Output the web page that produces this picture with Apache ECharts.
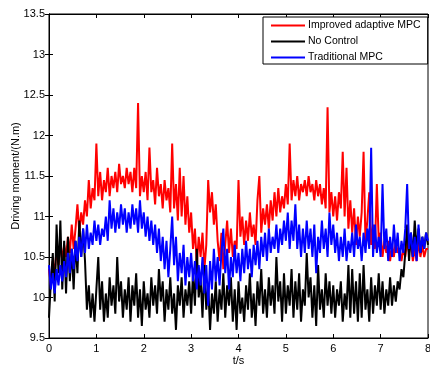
<!DOCTYPE html>
<html>
<head>
<meta charset="utf-8">
<script src="https://cdn.jsdelivr.net/npm/echarts@6/dist/echarts.min.js"></script>
<style>
html,body{margin:0;padding:0;background:#fff;}
#chart{width:430px;height:365px;}
</style>
</head>
<body>
<div id="chart"></div>
<script>
// Sample times: t = 0 .. 8 s, step 0.04 s
const tStart = 0;
const tStep = 0.04;

const seriesNames = ['Improved adaptive MPC', 'No Control', 'Traditional MPC'];

const improvedMPC = [
  10.35, 10.15, 10.45, 10.3, 10.6,
  10.4, 10.7, 10.45, 10.65, 10.5,
  10.75, 10.55, 10.9, 10.6, 10.85,
  11.15, 10.8, 11.05, 10.9, 11.2,
  11.0, 11.45, 11.1, 11.35, 11.2,
  11.9, 11.25, 11.55, 11.2, 11.45,
  11.3, 11.6, 11.25, 11.5, 11.35,
  11.55, 11.3, 11.65, 11.4, 11.5,
  11.35, 11.6, 11.4, 11.55, 11.3,
  11.6, 11.35, 12.4, 11.25, 11.5,
  11.3, 11.55, 11.2, 11.85, 11.3,
  11.45, 11.15, 11.6, 11.25, 11.4,
  11.1, 11.45, 11.2, 11.35, 11.05,
  11.9, 11.1, 11.4, 10.95, 11.6,
  11.0, 11.5, 10.9, 11.25, 10.8,
  11.05, 10.6, 10.85, 10.4, 10.75,
  10.5, 10.8, 10.35, 10.65, 11.45,
  11.05, 11.3, 10.9, 11.15, 10.7,
  10.45, 10.8, 10.35, 10.65, 10.95,
  10.55, 10.85, 10.5, 10.7, 10.6,
  11.45, 10.75, 11.0, 10.65, 10.95,
  10.7, 11.05, 10.75, 10.9, 10.65,
  11.2, 11.5, 10.8, 11.1, 10.9,
  11.15, 10.85, 11.2, 10.95, 11.3,
  11.0, 11.35, 11.05, 11.25, 11.1,
  11.4, 11.15, 11.9, 11.2, 11.45,
  11.25, 11.5, 11.2, 11.4, 11.3,
  11.45, 11.25, 11.5, 11.3, 11.4,
  11.2, 11.45, 11.25, 11.4, 11.15,
  11.35, 11.1, 12.35, 11.05, 11.3,
  11.0, 11.25, 10.95, 11.3, 11.1,
  11.8, 11.0, 11.6, 10.85, 11.2,
  10.8, 11.1, 10.65, 11.0, 10.75,
  11.05, 11.8, 10.7, 10.95, 11.3,
  10.65, 10.9, 10.6, 11.4, 10.7,
  10.8, 10.5, 10.7, 10.55, 10.7,
  10.45, 10.65, 10.5, 10.7, 10.55,
  10.6, 10.45, 10.6, 10.5, 10.7,
  10.55, 10.7, 10.45, 10.6, 10.45,
  10.7, 10.5, 10.65, 10.5, 10.6,
  10.6
];

const noControl = [
  9.75, 10.2, 10.55, 9.95, 10.9,
  10.3, 10.95, 10.1, 10.7, 10.05,
  10.75, 10.2, 10.6, 10.1, 10.7,
  10.3, 10.95, 10.5, 10.85, 10.45,
  9.85, 10.15, 9.75, 10.05, 9.7,
  10.1, 10.5, 9.85, 10.2, 9.7,
  10.05, 9.75, 10.25, 9.9, 10.15,
  9.8, 10.5, 9.95, 10.2, 9.75,
  10.1, 9.85, 10.25, 9.7, 10.15,
  9.9, 10.3, 9.75, 10.1, 9.65,
  10.2, 9.85, 10.05, 9.75, 10.25,
  9.9, 10.15, 9.8, 10.35, 9.95,
  10.2, 9.7, 10.1, 9.85, 10.25,
  9.8, 10.05, 9.6, 10.15, 9.9,
  10.25, 9.75, 10.1, 9.9, 10.2,
  9.8, 10.3, 9.9, 10.6, 10.0,
  10.25, 9.75, 10.4, 9.85, 10.15,
  9.6, 10.05, 9.8, 10.2, 9.7,
  10.1, 9.85, 10.3, 9.75, 10.15,
  9.9, 10.25, 9.7, 10.1, 9.6,
  10.2, 9.8, 10.0, 9.7, 10.15,
  9.85, 10.3, 9.75, 10.05, 9.65,
  10.2, 9.9, 10.35, 9.8, 10.1,
  9.75, 10.25, 9.9, 10.15, 9.8,
  10.5, 9.95, 10.2, 9.7, 10.3,
  9.8, 10.15, 9.9, 10.35, 9.75,
  10.2, 9.85, 10.3, 9.7, 10.1,
  9.9, 10.55, 10.0, 10.25, 9.75,
  10.15, 9.65, 10.4, 9.85, 10.1,
  9.75, 10.3, 9.9, 10.2, 9.8,
  10.15, 9.75, 10.1, 9.9, 10.2,
  9.7, 10.05, 9.85, 10.4, 9.75,
  10.35, 9.8, 10.2, 9.7, 10.3,
  9.75, 10.4, 9.85, 10.1, 9.7,
  10.25, 9.8, 10.15, 9.9, 10.3,
  9.85, 10.2, 9.8, 10.1, 9.9,
  10.25, 9.9, 10.15, 9.95, 10.2,
  10.1, 10.35, 10.25, 10.55, 10.9,
  10.45, 10.8, 10.5, 10.95, 10.6,
  10.85, 10.55, 10.75, 10.6, 10.8,
  10.65
];

const traditionalMPC = [
  10.4, 10.1, 10.3, 10.05, 10.35,
  10.15, 10.4, 10.2, 10.45, 10.25,
  10.55, 10.3, 10.6, 10.35, 10.7,
  10.45, 10.75, 10.5, 10.85, 10.55,
  10.9, 10.6, 10.8, 10.65, 10.95,
  10.7, 10.9, 10.65, 10.85, 10.75,
  11.0, 10.7, 11.2, 10.85, 11.1,
  10.8, 11.05, 10.85, 11.15, 10.9,
  11.1, 10.8, 11.05, 10.85, 11.15,
  10.9, 11.1, 10.8, 11.2, 10.85,
  11.05, 10.75, 11.0, 10.7, 10.95,
  10.65, 10.9, 10.55, 10.85, 10.45,
  10.75, 10.35, 10.7, 10.25, 10.6,
  11.0, 10.4, 10.75, 10.2, 10.55,
  10.3, 10.65, 10.15, 10.5, 10.25,
  10.55, 10.2, 10.45, 10.1, 10.4,
  10.15, 10.5, 10.05, 10.4, 9.9,
  10.45, 10.1, 10.6, 10.2, 10.5,
  10.15, 10.55, 10.85, 10.3, 10.6,
  10.1, 10.5, 10.25, 10.65, 10.3,
  10.55, 10.2, 10.6, 10.3, 10.7,
  10.35, 10.6, 10.25, 10.65, 10.4,
  10.7, 10.35, 10.75, 10.5, 10.8,
  10.45, 10.85, 10.55, 10.75, 10.6,
  10.9, 10.55, 10.85, 10.65, 10.95,
  10.7, 11.05, 10.6, 10.95, 10.7,
  11.15, 10.6, 10.9, 10.5, 10.85,
  10.55, 10.95, 10.6, 10.85, 10.5,
  10.9, 10.3, 10.75, 10.55, 10.95,
  10.6, 10.85, 10.5, 11.05, 10.65,
  10.9, 10.55, 10.8, 10.45, 10.75,
  10.5, 10.85, 10.45, 10.7, 10.55,
  10.8, 10.5, 10.9, 10.6, 10.75,
  10.45, 10.8, 10.55, 10.85, 10.6,
  11.85, 10.5, 10.9, 10.55, 10.75,
  10.5, 11.4, 10.6, 10.85, 10.45,
  10.75, 10.5, 10.9, 10.55, 10.8,
  10.45, 10.7, 10.55, 10.85, 11.4,
  10.6, 10.8, 10.5, 10.75, 10.45,
  10.9, 10.55, 10.75, 10.6, 10.8,
  10.7
];

const xTicks = [0, 1, 2, 3, 4, 5, 6, 7, 8];
const yTicks = [9.5, 10, 10.5, 11, 11.5, 12, 12.5, 13, 13.5];

function pairs(vals) {
  return vals.map((v, i) => [+(tStart + i * tStep).toFixed(2), v]);
}

const FONT = '"Liberation Sans", Arial, sans-serif';
const chart = echarts.init(document.getElementById('chart'), null, {renderer: 'canvas'});

const axisLine = {show: true, lineStyle: {color: '#000', width: 1}};
const tick = {show: true, inside: true, length: 4, lineStyle: {color: '#000', width: 1}};

chart.setOption({
  backgroundColor: '#fff',
  animation: false,
  textStyle: {fontFamily: FONT},
  grid: {left: 49, right: 2, top: 14, bottom: 27, containLabel: false, outerBoundsMode: 'none',
         show: true, borderColor: '#000', borderWidth: 1, backgroundColor: 'transparent'},
  legend: {
    orient: 'vertical',
    left: 263,
    top: 17,
    data: seriesNames,
    icon: 'rect',
    itemWidth: 34,
    itemHeight: 2,
    itemGap: 5,
    padding: [3, 7, 1, 8],
    borderColor: '#000',
    borderWidth: 1,
    backgroundColor: '#fff',
    textStyle: {fontFamily: FONT, fontSize: 10.5, color: '#000', padding: [0, 0, 0, -2]}
  },
  xAxis: [{
    type: 'value',
    min: xTicks[0], max: xTicks[xTicks.length - 1], interval: 1,
    name: 't/s', nameLocation: 'middle', nameGap: 17, nameMoveOverlap: false,
    nameTextStyle: {fontFamily: FONT, fontSize: 11, color: '#000'},
    axisLine: axisLine, axisTick: tick,
    axisLabel: {color: '#000', fontSize: 11, fontFamily: FONT, margin: 5},
    splitLine: {show: false}
  }, {
    type: 'value', position: 'top',
    min: xTicks[0], max: xTicks[xTicks.length - 1], interval: 1,
    axisLine: axisLine, axisTick: tick, axisLabel: {show: false}, splitLine: {show: false}
  }],
  yAxis: [{
    type: 'value',
    min: yTicks[0], max: yTicks[yTicks.length - 1], interval: 0.5,
    name: 'Driving moment/(N.m)', nameLocation: 'middle', nameGap: 28, nameMoveOverlap: false,
    nameTextStyle: {fontFamily: FONT, fontSize: 11, color: '#000'},
    axisLine: axisLine, axisTick: tick,
    axisLabel: {color: '#000', fontSize: 11, fontFamily: FONT, margin: 4},
    splitLine: {show: false}
  }, {
    type: 'value', position: 'right',
    min: yTicks[0], max: yTicks[yTicks.length - 1], interval: 0.5,
    axisLine: axisLine, axisTick: tick, axisLabel: {show: false}, splitLine: {show: false}
  }],
  series: [
    {name: seriesNames[0], type: 'line', data: pairs(improvedMPC), symbol: 'none', color: '#ff0000', lineStyle: {width: 2, color: '#ff0000'}},
    {name: seriesNames[1], type: 'line', data: pairs(noControl), symbol: 'none', color: '#000000', lineStyle: {width: 2, color: '#000000'}},
    {name: seriesNames[2], type: 'line', data: pairs(traditionalMPC), symbol: 'none', color: '#0000ff', lineStyle: {width: 2, color: '#0000ff'}}
  ]
});
</script>
</body>
</html>
